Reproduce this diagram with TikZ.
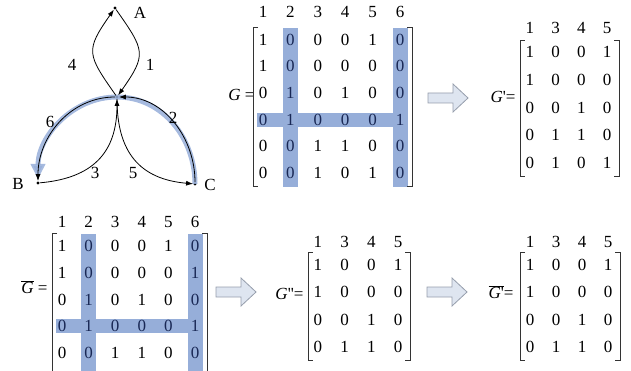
\documentclass[tikz,border=0pt]{standalone}
\usepackage{fontspec}
\setmainfont{Liberation Serif}
\usetikzlibrary{matrix,calc,arrows.meta,backgrounds}

\definecolor{hlblue}{RGB}{150,174,217}
\definecolor{arrfill}{RGB}{222,229,240}
\definecolor{arrline}{RGB}{150,158,172}
\definecolor{hltext}{RGB}{25,40,85}

\tikzset{
  >={Latex[length=7pt,width=5pt]},
  vtx/.style={circle,fill,inner sep=1.2pt},
  edge/.style={->,line width=0.8pt},
  hlpath/.style={draw=hlblue,line width=5pt,opacity=0.85,shorten >=4pt,
    -{Triangle[length=15pt,width=14pt]}},
  brk/.style={line width=0.8pt,black!80},
  hl/.style={fill=hlblue},
  blockarr/.style={fill=arrfill,draw=arrline,line width=0.8pt},
  mat/.style={matrix of nodes,inner sep=0pt,row sep=0pt,column sep=0pt},
}

% brackets: matrix name, last row, last col, extra length at the bottom
\newcommand{\mbrack}[4]{%
  \draw[brk] ($(#1-2-1)+(-5,12)$) -| ($(#1-#2-1)+(-10,-13-#4)$) -- ++(5,0);
  \draw[brk] ($(#1-2-#3)+(7,12)$) -| ($(#1-#2-#3)+(12,-13-#4)$) -- ++(-5,0);}
% blue bands
\newcommand{\hlcol}[4]{\fill[hl] ($(#1-2-#2)+(-7.5,12)$) rectangle ($(#1-#3-#2)+(7.5,-14-#4)$);}
\newcommand{\hlrow}[3]{\fill[hl] ($(#1-#2-1)+(-6,7)$) rectangle ($(#1-#2-#3)+(7.5,-7)$);}
% hollow arrow, starting at its left end
\newcommand{\blockarrow}[1]{\draw[blockarr] (#1) ++(0,5) -- ++(25,0) -- ++(0,9) -- ++(15,-14)
  -- ++(-15,-14) -- ++(0,9) -- ++(-25,0) -- cycle;}

\begin{document}
\begin{tikzpicture}[x=1pt, y=1pt, font=\fontsize{17}{20}\selectfont]
  \useasboundingbox (0,0) rectangle (631,-371);
  \clip (0,0) rectangle (631,-371);

  % Graph
  \node[vtx] (A) at (115,-8) {};
  \node[vtx] (O) at (117,-97) {};
  \node[vtx] (B) at (38,-183) {};
  \node[vtx] (C) at (195,-184) {};
  \node (lA) at (140,-13) {A};
  \node (lB) at (18,-184) {B};
  \node (lC) at (210,-185) {C};

  % highlighted path C -> O -> B
  \draw[hlpath] (C.center) to[out=90,in=0] (O.center) to[out=180,in=90] (B.center);

  \draw[edge] (O) to[out=125,in=235,looseness=1.5] (A);
  \draw[edge] (A) to[out=-55,in=55,looseness=1.5] (O);
  \draw[edge] (O) to[out=180,in=90] (B);
  \draw[edge] (C) to[out=90,in=0] (O);
  \draw[edge] (B) to[out=5,in=-90,looseness=1.2] (O);
  \draw[edge] (O) to[out=-90,in=175,looseness=1.2] (C);

  \node (l4) at (72,-65) {4};
  \node (l1) at (150,-65) {1};
  \node (l6) at (50,-122) {6};
  \node (l2) at (173,-118) {2};
  \node (l3) at (95,-173) {3};
  \node (l5) at (133,-173) {5};

  % G
  \node[anchor=east] (lG) at (258,-95) {\textit{G} =};
  \matrix (G) [mat, nodes={minimum width=27.4pt,minimum height=26.6pt,inner sep=0pt}]
    at (331.5,-92.5) {
    1 & 2 & 3 & 4 & 5 & 6 \\[1pt]
    1 & |[hltext]| 0 & 0 & 0 & 1 & |[hltext]| 0 \\
    1 & |[hltext]| 0 & 0 & 0 & 0 & |[hltext]| 0 \\
    0 & |[hltext]| 1 & 0 & 1 & 0 & |[hltext]| 0 \\
    |[hltext]| 0 & |[hltext]| 1 & |[hltext]| 0 & |[hltext]| 0 & |[hltext]| 0 & |[hltext]| 1 \\
    0 & |[hltext]| 0 & 1 & 1 & 0 & |[hltext]| 0 \\
    0 & |[hltext]| 0 & 1 & 0 & 1 & |[hltext]| 0 \\
  };
  \mbrack{G}{7}{6}{0}
  \blockarrow{428,-98}

  % G'
  \node[anchor=east] (lGp) at (519,-97) {\textit{G}\textquotesingle=};
  \matrix (Gp) [mat, nodes={minimum width=25.7pt,minimum height=27.7pt,inner sep=0pt}]
    at (568.5,-95.5) {
    1 & 3 & 4 & 5 \\[-3.5pt]
    1 & 0 & 0 & 1 \\
    1 & 0 & 0 & 0 \\
    0 & 0 & 1 & 0 \\
    0 & 1 & 1 & 0 \\
    0 & 1 & 0 & 1 \\
  };
  \mbrack{Gp}{6}{4}{0}

  % G bar
  \node[anchor=east] (lGb) at (51,-287) {$\overline{\hbox{\textit{G}}}$ =};
  \matrix (Gb) [mat, nodes={minimum width=26.6pt,minimum height=26.8pt,inner sep=0pt}]
    at (128.5,-287.5) {
    1 & 2 & 3 & 4 & 5 & 6 \\[-3pt]
    1 & |[hltext]| 0 & 0 & 0 & 1 & |[hltext]| 0 \\
    1 & |[hltext]| 0 & 0 & 0 & 0 & |[hltext]| 1 \\
    0 & |[hltext]| 1 & 0 & 1 & 0 & |[hltext]| 0 \\
    |[hltext]| 0 & |[hltext]| 1 & |[hltext]| 0 & |[hltext]| 0 & |[hltext]| 0 & |[hltext]| 1 \\
    0 & |[hltext]| 0 & 1 & 1 & 0 & |[hltext]| 0 \\
  };
  \mbrack{Gb}{6}{6}{10}
  \blockarrow{216,-292}

  % G''
  \node[anchor=east] (lGpp) at (307,-294) {\textit{G}\textquotesingle\textquotesingle=};
  \matrix (Gpp) [mat, nodes={minimum width=26.7pt,minimum height=27.5pt,inner sep=0pt}]
    at (358,-294.5) {
    1 & 3 & 4 & 5 \\[-5pt]
    1 & 0 & 0 & 1 \\
    1 & 0 & 0 & 0 \\
    0 & 0 & 1 & 0 \\
    0 & 1 & 1 & 0 \\
  };
  \mbrack{Gpp}{5}{4}{0}
  \blockarrow{427,-292}

  % G' bar
  \node[anchor=east] (lGbp) at (517,-292) {$\overline{\hbox{\textit{G}\textquotesingle}}$=};
  \matrix (Gbp) [mat, nodes={minimum width=26pt,minimum height=27.5pt,inner sep=0pt}]
    at (569,-294.5) {
    1 & 3 & 4 & 5 \\[-5pt]
    1 & 0 & 0 & 1 \\
    1 & 0 & 0 & 0 \\
    0 & 0 & 1 & 0 \\
    0 & 1 & 1 & 0 \\
  };
  \mbrack{Gbp}{5}{4}{0}

  % blue bands behind the entries
  \begin{scope}[on background layer]
    \hlcol{G}{2}{7}{0}
    \hlcol{G}{6}{7}{0}
    \hlrow{G}{5}{6}
    \hlcol{Gb}{2}{6}{4}
    \hlcol{Gb}{6}{6}{4}
    \hlrow{Gb}{5}{6}
  \end{scope}
\end{tikzpicture}
\end{document}
